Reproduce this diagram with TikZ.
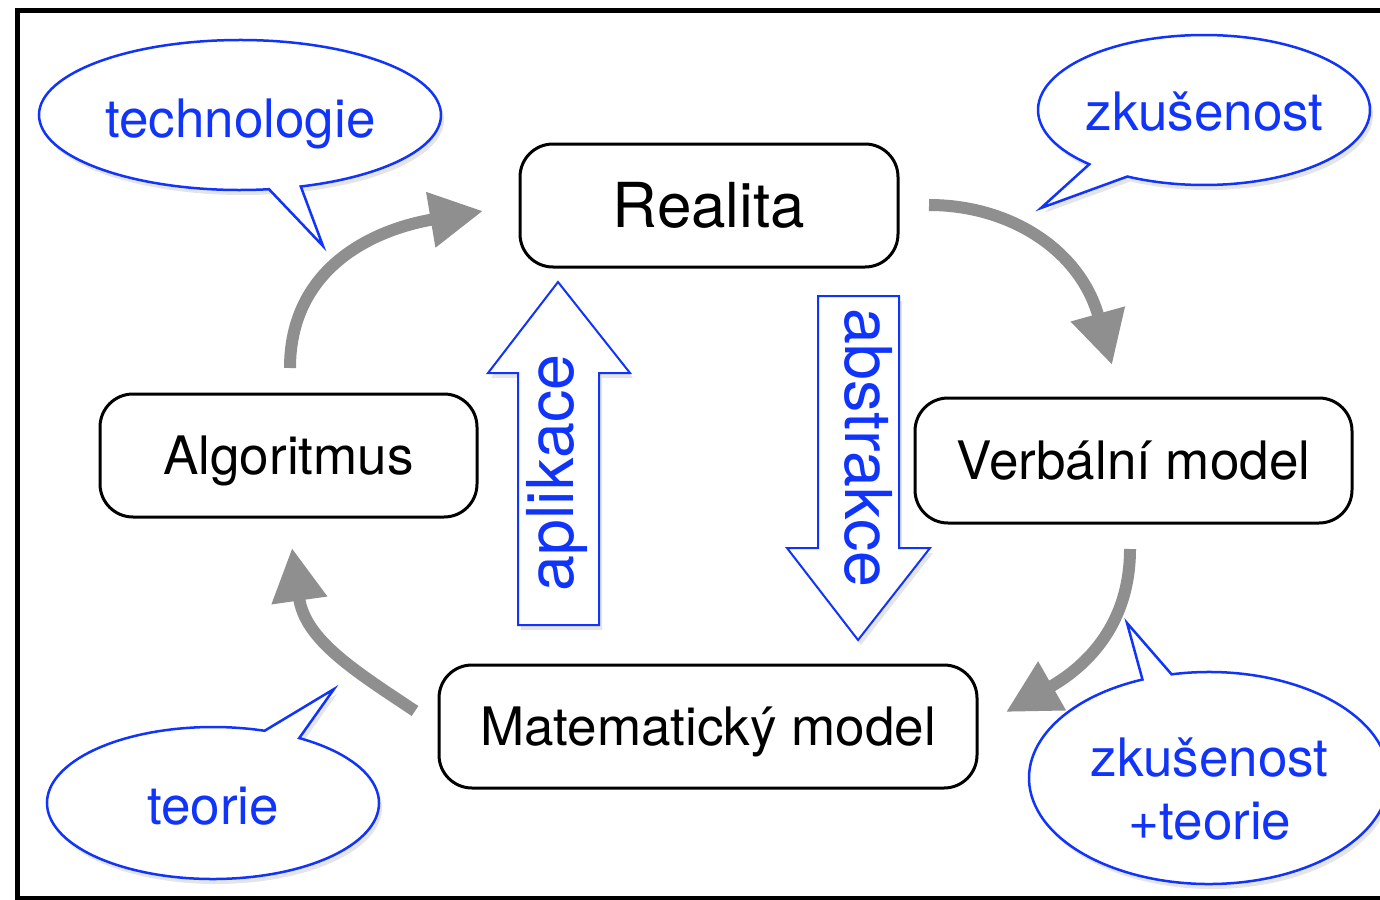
\documentclass[tikz,border=0pt]{standalone}
\usepackage{fontspec}
\setmainfont{TeX Gyre Heros}
\usetikzlibrary{arrows.meta,shadows,calc}
\definecolor{cblue}{RGB}{16,52,250}
\definecolor{cgray}{RGB}{143,143,143}
\begin{document}
\begin{tikzpicture}[x=0.5pt,y=-0.5pt,
  box/.style={draw=black, line width=1.5pt, rounded corners=16.5pt, fill=white, inner sep=0pt,
    text depth=0pt, text height=19.1pt, font=\fontsize{26.5}{31}\selectfont},
  bubble/.style={draw=cblue, line width=1.25pt, fill=white, line join=miter,
    drop shadow={shadow xshift=1.5pt, shadow yshift=-2.5pt, opacity=0.2}},
  blk/.style={draw=cblue, line width=1pt, fill=white, line join=miter,
    drop shadow={shadow xshift=1.5pt, shadow yshift=-2.5pt, opacity=0.2}},
  btxt/.style={text=cblue, font=\fontsize{26.5}{31}\selectfont, anchor=base, inner sep=0pt},
  rtxt/.style={text=cblue, font=\fontsize{32.3}{38}\selectfont, anchor=base, inner sep=0pt},
  cyc/.style={draw=cgray, line width=6pt, -{Triangle[length=26.5pt,width=26.5pt]}}
]
\useasboundingbox (0,0) rectangle (1380,899);
\fill[white] (0,0) rectangle (1380,899);
% frame
\draw[line width=2.5pt] (17.5,11) rectangle (1400,898.5);

% boxes
\node[box, font=\fontsize{31}{36}\selectfont, text height=22.3pt,
      minimum width=189pt, minimum height=61.5pt] (real) at (709,205.5) {Realita};
\node[box, minimum width=188.5pt, minimum height=61.5pt] (algo) at (288.5,455.5) {Algoritmus};
\node[box, minimum width=218.5pt, minimum height=62.5pt] (verb) at (1133.5,460.5) {Verbální model};
\node[box, minimum width=269pt, minimum height=61.5pt] (mat) at (708,726.5) {Matematický model};

% cycle arrows
\coordinate (algoOut) at (290,368);
\coordinate (realIn) at (483,211);
\coordinate (realOut) at (929,205);
\coordinate (verbIn) at (1112,365);
\coordinate (verbOut) at (1130,549);
\coordinate (matIn) at (1006,712);
\coordinate (matOut) at (415,711);
\coordinate (algoIn) at (292,548);
\draw[cyc] (algoOut) .. controls (290,270) and (370,230) .. (realIn);
\draw[cyc] (realOut) .. controls (1010,205) and (1080,250) .. (verbIn);
\draw[cyc] (verbOut) .. controls (1130,630) and (1080,670) .. (matIn);
\draw[cyc] (matOut) .. controls (355,671) and (305,640) .. (algoIn);

% block arrows
\draw[blk] (558,282) -- (630,373) -- (599,373) -- (599,625) -- (518,625) -- (518,373) -- (488,373) -- cycle;
\node[rtxt, rotate=90] (apl) at (573,473) {aplikace};
\draw[blk] (818,296) -- (899,296) -- (899,548) -- (930,548) -- (858,640) -- (787,548) -- (818,548) -- cycle;
\node[rtxt, rotate=-90] (abs) at (845,448) {abstrakce};

% callouts
\draw[bubble] ($(240,115)+(81.7:201 and 75)$) arc[start angle=81.7, end angle=432.4, x radius=201, y radius=75] -- (323,246) -- cycle;
\node[btxt] (tech) at (240.5,137) {technologie};

\draw[bubble] ($(1204,110)+(133.7:166 and 75)$) arc[start angle=133.7, end angle=477.5, x radius=166, y radius=75] -- (1041,208) -- cycle;
\node[btxt] (zk1) at (1204.5,130) {zkušenost};

\draw[bubble] ($(213,803)+(-58.7:166 and 76)$) arc[start angle=-58.7, end angle=288.1, x radius=166, y radius=76] -- (334,689) -- cycle;
\node[btxt] (teo) at (213,824) {teorie};

\draw[bubble] ($(1209,778)+(-102:180 and 106)$) arc[start angle=-102, end angle=248.3, x radius=180, y radius=106] -- (1127,623) -- cycle;
\node[btxt] (zk2) at (1209.5,776) {zkušenost};
\node[btxt] (teo2) at (1210,839) {+teorie};
\end{tikzpicture}
\end{document}
